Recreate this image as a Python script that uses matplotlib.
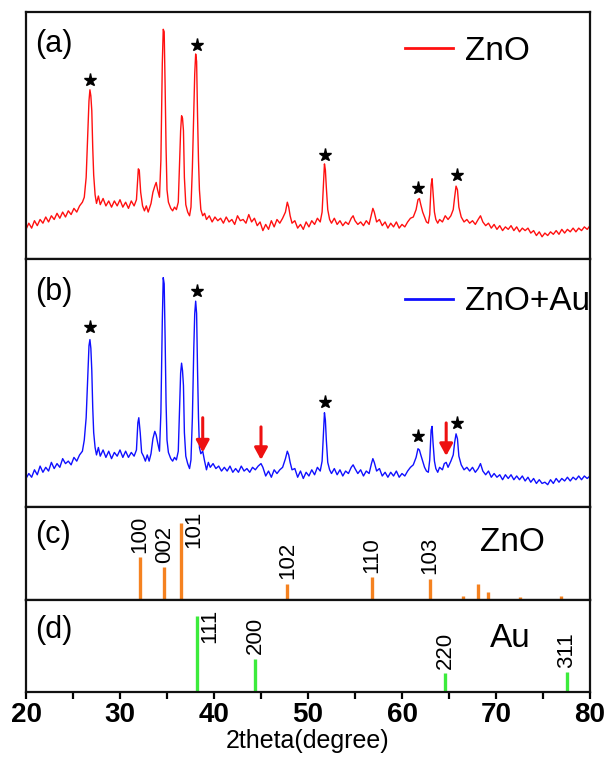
import matplotlib
matplotlib.use("Agg")
import matplotlib.pyplot as plt
from matplotlib.lines import Line2D

plt.rcParams['font.family'] = ['Liberation Sans', 'DejaVu Sans']

# ---------------- data ----------------
tt_a = [20.0, 20.3, 20.6, 20.9, 21.2, 21.5, 21.8, 22.1, 22.4, 22.7, 23.0, 23.3, 23.6, 23.9, 24.2, 24.5, 24.8, 25.1, 25.4, 25.7,
        26.0, 26.2, 26.4, 26.55, 26.7, 26.8, 26.9, 27.0, 27.1, 27.2, 27.35, 27.5, 27.7, 27.9, 28.2, 28.5, 28.8, 29.1, 29.4, 29.7,
        30.0, 30.3, 30.6, 30.9, 31.2, 31.5, 31.75, 31.95, 32.05, 32.2, 32.4, 32.6, 32.8, 33.0, 33.3, 33.5, 33.7, 33.85, 34.0, 34.2,
        34.35, 34.5, 34.6, 34.7, 34.8, 34.9, 35.0, 35.15, 35.4, 35.6, 35.8, 36.0, 36.2, 36.35, 36.45, 36.55, 36.65, 36.75, 36.85, 37.0,
        37.2, 37.4, 37.55, 37.7, 37.85, 37.95, 38.05, 38.15, 38.25, 38.35, 38.45, 38.6, 38.8, 39.0, 39.2, 39.5, 39.8, 40.1, 40.4, 40.7,
        41.0, 41.3, 41.6, 41.9, 42.2, 42.5, 42.8, 43.1, 43.4, 43.7, 44.0, 44.3, 44.6, 44.9, 45.2, 45.5, 45.8, 46.1, 46.4, 46.7,
        47.0, 47.3, 47.6, 47.8, 47.95, 48.1, 48.3, 48.6, 48.9, 49.2, 49.5, 49.8, 50.1, 50.4, 50.7, 51.0, 51.3, 51.5, 51.65, 51.75,
        51.85, 51.95, 52.1, 52.3, 52.5, 52.8, 53.1, 53.4, 53.7, 54.0, 54.3, 54.6, 54.8, 55.0, 55.3, 55.6, 55.9, 56.2, 56.5, 56.75,
        56.9, 57.05, 57.3, 57.6, 57.9, 58.2, 58.5, 58.8, 59.1, 59.4, 59.7, 60.0, 60.3, 60.6, 60.9, 61.2, 61.5, 61.7, 61.85, 62.0,
        62.2, 62.4, 62.6, 62.8, 62.95, 63.1, 63.2, 63.3, 63.45, 63.6, 63.8, 64.0, 64.3, 64.6, 64.9, 65.2, 65.45, 65.6, 65.75, 65.9,
        66.05, 66.3, 66.6, 66.9, 67.2, 67.5, 67.8, 68.1, 68.35, 68.6, 68.9, 69.2, 69.5, 69.8, 70.1, 70.4, 70.7, 71.0, 71.3, 71.6,
        71.9, 72.2, 72.5, 72.8, 73.1, 73.4, 73.7, 74.0, 74.3, 74.6, 74.9, 75.2, 75.5, 75.8, 76.1, 76.4, 76.7, 77.0, 77.3, 77.6,
        77.9, 78.2, 78.5, 78.8, 79.1, 79.4, 79.7, 80.0]
int_a = [12.0, 14.5, 12.5, 15.5, 13.5, 16.0, 14.5, 17.0, 15.0, 17.5, 16.0, 18.5, 16.5, 19.0, 17.0, 19.5, 18.0, 20.5, 19.0, 21.5,
         23.0, 25.0, 33.0, 48.0, 64.0, 68.5, 66.0, 60.0, 45.0, 34.0, 26.0, 22.5, 25.5, 22.0, 24.5, 21.5, 23.5, 21.0, 23.5, 21.5,
         24.0, 21.0, 23.0, 20.5, 23.5, 21.5, 24.0, 36.5, 36.0, 27.0, 21.5, 19.5, 21.5, 19.0, 22.5, 27.0, 29.5, 31.0, 28.0, 25.0,
         40.0, 79.0, 93.0, 92.0, 70.0, 45.0, 28.0, 23.0, 20.5, 19.5, 21.0, 20.0, 23.0, 40.0, 52.0, 58.0, 57.0, 52.0, 33.0, 22.0,
         19.0, 17.5, 21.0, 37.0, 60.0, 75.0, 83.0, 80.0, 58.0, 40.0, 28.0, 20.0, 17.5, 18.5, 16.0, 17.5, 15.0, 17.0, 15.5, 16.5,
         14.5, 17.0, 15.0, 16.0, 14.0, 17.5, 15.5, 16.0, 14.5, 18.0, 15.0, 16.5, 13.5, 15.0, 11.5, 14.0, 12.0, 15.5, 13.0, 16.0,
         14.5, 16.5, 19.0, 23.0, 21.0, 17.5, 14.5, 15.5, 12.5, 14.0, 12.0, 15.0, 13.0, 15.5, 14.0, 16.5, 15.0, 19.0, 31.0, 38.5,
         36.0, 29.0, 20.0, 16.0, 14.5, 16.5, 14.0, 15.5, 13.5, 15.0, 14.0, 16.5, 17.5, 15.5, 14.0, 15.0, 13.5, 15.5, 14.0, 18.0,
         20.5, 19.0, 15.0, 16.0, 13.5, 15.0, 12.5, 14.5, 13.0, 15.0, 12.5, 14.0, 13.0, 15.0, 16.5, 17.0, 20.0, 24.0, 24.5, 22.0,
         19.0, 17.0, 15.0, 14.5, 18.0, 30.0, 32.5, 27.0, 19.0, 16.0, 14.5, 16.0, 15.0, 17.5, 16.0, 17.5, 20.0, 25.0, 29.5, 28.0,
         21.0, 17.0, 15.0, 16.0, 14.5, 15.5, 14.0, 16.0, 17.5, 15.0, 13.5, 14.5, 12.5, 14.0, 12.0, 13.5, 11.5, 13.0, 12.0, 13.5,
         11.5, 13.0, 11.0, 12.5, 11.5, 12.5, 10.5, 11.5, 9.5, 11.0, 9.0, 10.5, 9.5, 11.0, 10.0, 11.5, 10.0, 12.0, 10.5, 12.0,
         11.0, 12.5, 11.0, 12.5, 11.5, 13.0, 12.0, 13.5]

tt_b = [20.0, 20.3, 20.6, 20.9, 21.2, 21.5, 21.8, 22.1, 22.4, 22.7, 23.0, 23.3, 23.6, 23.9, 24.2, 24.5, 24.8, 25.1, 25.4, 25.7,
        26.0, 26.2, 26.4, 26.55, 26.7, 26.8, 26.9, 27.0, 27.1, 27.2, 27.35, 27.5, 27.7, 27.9, 28.2, 28.5, 28.8, 29.1, 29.4, 29.7,
        30.0, 30.3, 30.6, 30.9, 31.2, 31.5, 31.75, 31.9, 32.0, 32.15, 32.3, 32.5, 32.7, 32.9, 33.1, 33.3, 33.5, 33.7, 33.85, 34.0,
        34.2, 34.35, 34.5, 34.6, 34.7, 34.8, 34.9, 35.0, 35.15, 35.4, 35.6, 35.8, 36.0, 36.2, 36.35, 36.45, 36.55, 36.65, 36.75, 36.85,
        37.0, 37.2, 37.4, 37.55, 37.7, 37.85, 37.95, 38.05, 38.15, 38.25, 38.35, 38.45, 38.6, 38.8, 39.0, 39.2, 39.4, 39.6, 39.9, 40.2,
        40.5, 40.8, 41.1, 41.4, 41.7, 42.0, 42.3, 42.6, 42.9, 43.2, 43.5, 43.8, 44.1, 44.4, 44.7, 45.0, 45.2, 45.5, 45.8, 46.1,
        46.4, 46.7, 47.0, 47.3, 47.6, 47.8, 47.95, 48.1, 48.3, 48.6, 48.9, 49.2, 49.5, 49.8, 50.1, 50.4, 50.7, 51.0, 51.3, 51.5,
        51.65, 51.75, 51.85, 51.95, 52.1, 52.3, 52.5, 52.8, 53.1, 53.4, 53.7, 54.0, 54.3, 54.6, 54.8, 55.0, 55.3, 55.6, 55.9, 56.2,
        56.5, 56.75, 56.9, 57.05, 57.3, 57.6, 57.9, 58.2, 58.5, 58.8, 59.1, 59.4, 59.7, 60.0, 60.3, 60.6, 60.9, 61.2, 61.5, 61.7,
        61.85, 62.0, 62.2, 62.4, 62.6, 62.8, 62.95, 63.1, 63.2, 63.3, 63.45, 63.6, 63.8, 64.0, 64.3, 64.5, 64.7, 64.9, 65.2, 65.45,
        65.6, 65.75, 65.9, 66.05, 66.3, 66.6, 66.9, 67.2, 67.5, 67.8, 68.1, 68.35, 68.6, 68.9, 69.2, 69.5, 69.8, 70.1, 70.4, 70.7,
        71.0, 71.3, 71.6, 71.9, 72.2, 72.5, 72.8, 73.1, 73.4, 73.7, 74.0, 74.3, 74.6, 74.9, 75.2, 75.5, 75.8, 76.1, 76.4, 76.7,
        77.0, 77.3, 77.6, 77.9, 78.2, 78.5, 78.8, 79.1, 79.4, 79.7, 80.0]
int_b = [11.5, 13.5, 12.0, 15.0, 13.0, 16.5, 14.0, 16.0, 14.5, 18.0, 15.5, 17.5, 16.0, 19.5, 17.5, 18.5, 17.0, 20.0, 18.5, 21.0,
         22.5, 27.0, 36.0, 50.0, 65.0, 67.5, 64.0, 55.0, 40.0, 30.0, 24.0, 21.0, 24.0, 20.5, 23.0, 20.0, 22.5, 19.5, 22.0, 20.5,
         23.0, 20.0, 22.5, 20.0, 22.0, 20.5, 23.0, 34.0, 36.0, 30.0, 22.0, 20.5, 18.5, 21.0, 18.5, 21.5, 27.5, 30.5, 29.0, 26.0,
         22.5, 38.0, 75.0, 92.5, 90.0, 68.0, 42.0, 27.0, 22.0, 19.5, 18.5, 20.0, 19.0, 22.5, 42.0, 54.0, 58.0, 55.0, 49.0, 30.0,
         20.5, 17.5, 15.5, 19.0, 36.0, 64.0, 78.0, 83.0, 78.0, 55.0, 36.0, 24.0, 21.5, 22.5, 18.5, 15.0, 18.0, 16.0, 17.5, 15.5,
         16.5, 14.5, 16.0, 14.5, 16.5, 14.0, 15.5, 14.0, 16.5, 14.5, 15.5, 14.0, 16.0, 15.0, 16.5, 17.5, 16.0, 12.5, 14.5, 12.0,
         15.0, 13.5, 15.0, 16.0, 19.5, 22.5, 21.0, 18.0, 15.0, 15.5, 12.0, 14.5, 11.5, 14.0, 12.5, 15.0, 13.0, 16.0, 14.5, 18.5,
         30.0, 38.0, 35.0, 27.0, 18.0, 15.0, 13.5, 15.5, 13.0, 15.0, 12.5, 14.5, 13.5, 16.0, 17.0, 15.5, 13.5, 15.0, 12.5, 14.5,
         13.5, 17.5, 19.5, 18.0, 14.5, 15.5, 12.5, 14.0, 12.0, 14.0, 12.5, 14.5, 12.0, 13.5, 12.5, 14.5, 16.0, 17.0, 20.0, 23.5,
         23.0, 21.0, 18.5, 16.0, 14.5, 14.0, 19.0, 31.0, 32.5, 26.0, 18.5, 15.5, 14.0, 16.0, 15.0, 17.5, 18.0, 16.0, 18.5, 21.0,
         26.0, 29.5, 27.5, 20.5, 17.0, 15.0, 16.0, 14.5, 16.0, 14.0, 15.5, 17.5, 14.5, 13.0, 14.5, 12.0, 13.5, 12.0, 13.0, 11.0,
         13.0, 11.5, 13.0, 11.0, 12.5, 11.0, 12.5, 10.5, 12.0, 10.0, 11.5, 9.5, 11.0, 9.5, 10.0, 9.0, 11.0, 9.5, 11.5, 10.0,
         11.5, 10.5, 12.0, 10.5, 12.0, 11.0, 12.5, 11.0, 12.5, 11.5, 12.5]

star_tt = [26.8, 38.15, 51.8, 61.75, 65.8]
star_a = [72.5, 86.6, 42.3, 28.9, 34.0]
star_b = [72.5, 87.0, 42.2, 28.8, 34.0]

arrow_tt = [38.8, 45.0, 64.7]
arrow_top = [36.0, 32.3, 33.9]
arrow_bottom = [22.0, 19.0, 20.6]

zno_pos = [32.15, 34.7, 36.5, 47.8, 56.8, 62.96, 66.5, 68.06, 69.1, 72.5, 76.9]
zno_int = [45.7, 35.1, 82.3, 17.4, 24.5, 23.0, 4.0, 17.4, 8.5, 3.0, 4.0]
zno_hkl = ['100', '002', '101', '102', '110', '103', '', '', '', '', '']

au_pos = [38.2, 44.4, 64.6, 77.5]
au_int = [82.3, 36.4, 20.5, 22.0]
au_hkl = ['111', '200', '220', '311']

x_ticks = [20, 30, 40, 50, 60, 70, 80]

# ---------------- figure ----------------
W, H = 608, 763
fig = plt.figure(figsize=(W / 100, H / 100), dpi=100)
left, right = 26 / W, 590 / W
def rect(y_top, y_bot):
    return [left, 1 - y_bot / H, right - left, (y_bot - y_top) / H]

ax_a = fig.add_axes(rect(12, 259))
ax_b = fig.add_axes(rect(259, 507))
ax_c = fig.add_axes(rect(507, 600))
ax_d = fig.add_axes(rect(600, 692))
axes = [ax_a, ax_b, ax_c, ax_d]

for ax in axes:
    ax.set_xlim(20, 80)
    ax.set_ylim(0, 100)
    ax.set_yticks([])
    for s in ax.spines.values():
        s.set_linewidth(1.6)
        s.set_color('#111111')
for ax in axes[:3]:
    ax.set_xticks([])

# spectra
ax_a.plot(tt_a, int_a, color='#FF1010', lw=1.0)
ax_b.plot(tt_b, int_b, color='#1010FF', lw=1.0)
ax_a.plot(star_tt, star_a, ls='none', marker='*', ms=9.5, color='black')
ax_b.plot(star_tt, star_b, ls='none', marker='*', ms=9.5, color='black')

for x, y0, y1 in zip(arrow_tt, arrow_top, arrow_bottom):
    ax_b.annotate('', xy=(x, y1), xytext=(x, y0),
                  arrowprops=dict(arrowstyle='-|>,head_width=0.3,head_length=0.55',
                                  color='#EE1111', lw=2.2, mutation_scale=13,
                                  shrinkA=0, shrinkB=0))

ax_a.legend(handles=[Line2D([], [], color='#FF1010', lw=2)], labels=['ZnO'],
            loc='center left', bbox_to_anchor=(0.672, 0.842), frameon=False,
            fontsize=24, handlelength=1.45, handletextpad=0.36,
            borderpad=0, borderaxespad=0)
ax_b.legend(handles=[Line2D([], [], color='#1010FF', lw=2)], labels=['ZnO+Au'],
            loc='center left', bbox_to_anchor=(0.672, 0.827), frameon=False,
            fontsize=24, handlelength=1.45, handletextpad=0.36,
            borderpad=0, borderaxespad=0)

# reference patterns
ax_c.vlines(zno_pos, 0, zno_int, color='#F58220', lw=2.4)
ax_d.vlines(au_pos, 0, au_int, color='#3CEB3C', lw=2.4)

for x, h, lab in zip(zno_pos, zno_int, zno_hkl):
    if not lab:
        continue
    if lab == '101':
        ax_c.text(x + 1.3, 96, lab, rotation=90, ha='center', va='top', fontsize=16)
    else:
        ax_c.text(x, h + 5, lab, rotation=90, ha='center', va='bottom', fontsize=16)
for x, h, lab in zip(au_pos, au_int, au_hkl):
    if lab == '111':
        ax_d.text(x + 1.35, 91, lab, rotation=90, ha='center', va='top', fontsize=16)
    else:
        ax_d.text(x, h + 4.5, lab, rotation=90, ha='center', va='bottom', fontsize=16)

ax_c.text(71.7, 62, 'ZnO', ha='center', va='center', fontsize=24)
ax_d.text(71.5, 58.5, 'Au', ha='center', va='center', fontsize=24)

for ax, lab, yy in zip(axes, ['(a)', '(b)', '(c)', '(d)'], [87, 86.7, 70, 67]):
    ax.text(21.0, yy, lab, ha='left', va='center', fontsize=22)

# x axis
ax_d.set_xticks(x_ticks)
ax_d.set_xticks(list(range(25, 80, 10)), minor=True)
ax_d.tick_params(axis='x', which='both', direction='out', length=5, width=1.6, pad=2)
ax_d.set_xticklabels([str(t) for t in x_ticks], fontsize=20, fontweight='bold')
ax_d.set_xlabel('2theta(degree)', fontsize=18, labelpad=1)

fig.savefig('out.png', dpi=100)
